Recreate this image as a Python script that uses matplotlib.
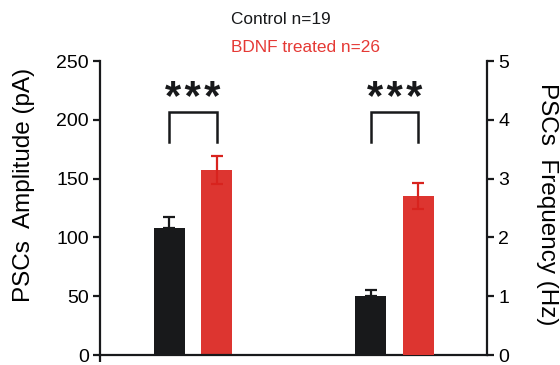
import matplotlib
matplotlib.use("Agg")
import matplotlib.pyplot as plt

plt.rcParams['font.family'] = ['Liberation Sans', 'DejaVu Sans']

# Mean values and SEM for each condition
groups = ["Amplitude", "Frequency"]
control_amp, control_amp_err = 108, 9
bdnf_amp, bdnf_amp_err = 157, 12
control_freq, control_freq_err = 1.0, 0.1
bdnf_freq, bdnf_freq_err = 2.7, 0.22
amp_ticks = [0, 50, 100, 150, 200, 250]
freq_ticks = [0, 1, 2, 3, 4, 5]
significance = ["*\u200a*\u200a*", "*\u200a*\u200a*"]

black = "#18191b"
red = "#dd3530"
red_err = "#d8231e"

fig = plt.figure(figsize=(5.6, 3.65), dpi=100)
ax = fig.add_axes([100 / 560, 10 / 365, 387 / 560, 294 / 365])
ax2 = ax.twinx()

width = 0.154
off = 0.119
lw = 1.6

# Amplitude bars (left axis)
ax.bar(0 - off, control_amp, width, color=black, zorder=2)
ax.errorbar(0 - off, control_amp, yerr=[[0], [control_amp_err]], fmt="none",
            ecolor=black, elinewidth=lw, capsize=4, capthick=lw, zorder=1)
ax.bar(0 + off, bdnf_amp, width, color=red, zorder=1)
ax.errorbar(0 + off, bdnf_amp, yerr=bdnf_amp_err, fmt="none",
            ecolor=red_err, elinewidth=lw, capsize=4, capthick=lw, zorder=3)

# Frequency bars (right axis)
ax2.bar(1 - off, control_freq, width, color=black, zorder=2)
ax2.errorbar(1 - off, control_freq, yerr=[[0], [control_freq_err]], fmt="none",
             ecolor=black, elinewidth=lw, capsize=4, capthick=lw, zorder=1)
ax2.bar(1 + off, bdnf_freq, width, color=red, zorder=1)
ax2.errorbar(1 + off, bdnf_freq, yerr=bdnf_freq_err, fmt="none",
             ecolor=red_err, elinewidth=lw, capsize=4, capthick=lw, zorder=3)

ax.set_xlim(-0.4615, 1.459)
ax.set_ylim(0, 250)
ax2.set_ylim(0, 5)
ax.set_yticks(amp_ticks)
ax2.set_yticks(freq_ticks)
ax.set_xticks([-0.4615])
ax.set_xticklabels([])

for a in (ax, ax2):
    a.spines["top"].set_visible(False)
    for s in a.spines.values():
        s.set_linewidth(1.6)
        s.set_color(black)
    a.tick_params(width=1.6, length=5, color=black, labelsize=14, pad=3)
ax.spines["right"].set_visible(False)
ax2.spines["left"].set_visible(False)
ax2.spines["bottom"].set_visible(False)

ax.set_ylabel("PSCs  Amplitude (pA)", fontsize=17.5, va="center")
ax.yaxis.set_label_coords(-0.196, 0.578)
ax2.set_ylabel("PSCs  Frequency (Hz)", fontsize=17.5, rotation=270,
               va="center")
ax2.yaxis.set_label_coords(1.155, 0.514)

# Significance brackets
for g, label in zip(range(len(groups)), significance):
    x0, x1 = g - off, g + off
    ax.plot([x0, x0, x1, x1], [181, 207, 207, 181], color=black, lw=1.8,
            solid_joinstyle="miter", clip_on=False)
    ax.text(g, 208.5, label, ha="center", va="baseline", fontsize=30,
            fontweight="bold", color=black)

# Group legend
fig.text(231 / 560, 1 - 19 / 365, "Control n=19", fontsize=12.4,
         color=black, ha="left", va="center")
fig.text(231 / 560, 1 - 47 / 365, "BDNF treated n=26", fontsize=12.4,
         color="#e53935", ha="left", va="center")

fig.savefig("out.png", dpi=100)
